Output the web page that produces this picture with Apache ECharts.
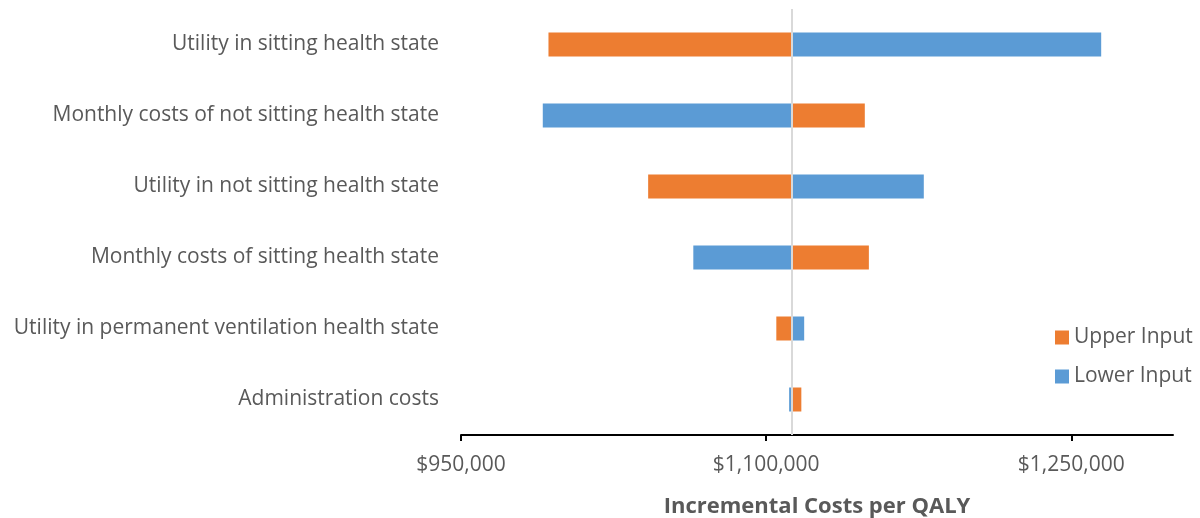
<!DOCTYPE html>
<html>
<head>
<meta charset="utf-8">
<script src="https://cdn.jsdelivr.net/npm/echarts@6/dist/echarts.min.js"></script>
<style>
  html, body { margin: 0; padding: 0; background: #fff; }
  #chart { width: 1200px; height: 518px; }
</style>
</head>
<body>
<div id="chart"></div>
<script>
// tornado data
const categories = [
  "Utility in sitting health state",
  "Monthly costs of not sitting health state",
  "Utility in not sitting health state",
  "Monthly costs of sitting health state",
  "Utility in permanent ventilation health state",
  "Administration costs",
];
const baseCase = 1112600;
const upperInput = [993000, 1148500, 1042000, 1150500, 1105000, 1117300];
const lowerInput = [1264700, 990200, 1177500, 1064200, 1118700, 1111300];
const tickValues = [950000, 1100000, 1250000];

const font = "Open Sans";
const textColor = "#595959";

// each input is a stack: invisible offset up to the left edge, then the coloured part
const offsetOf = (arr) => arr.map((v) => Math.min(v, baseCase));
const spanOf = (arr) => arr.map((v) => Math.abs(v - baseCase));

const fmtMoney = (v) => "$" + v.toLocaleString("en-US");

const chart = echarts.init(document.getElementById("chart"));

chart.setOption({
  animation: false,
  textStyle: { fontFamily: font },
  grid: {
    left: 461,
    right: 27,
    top: 9,
    bottom: 83,
    containLabel: false,
    outerBoundsMode: "none",
  },
  legend: {
    data: ["Upper Input", "Lower Input"],
    orient: "vertical",
    left: 1050,
    top: 322,
    itemWidth: 14,
    itemHeight: 14,
    itemGap: 18,
    icon: "rect",
    textStyle: { fontSize: 21, color: textColor, fontFamily: font },
  },
  xAxis: {
    type: "value",
    min: 950000,
    max: 1300000,
    interval: 150000,
    name: "Incremental Costs per QALY",
    nameLocation: "middle",
    nameGap: 61,
    nameTextStyle: { fontSize: 22, fontWeight: "bold", color: textColor, fontFamily: font },
    axisLine: { show: true, lineStyle: { color: "#000", width: 2 } },
    axisTick: { show: true, length: 6, customValues: tickValues, lineStyle: { color: "#000", width: 2 } },
    axisLabel: {
      customValues: tickValues,
      formatter: fmtMoney,
      fontSize: 21,
      color: textColor,
      margin: 20,
    },
    splitLine: { show: false },
  },
  yAxis: {
    type: "category",
    data: categories,
    inverse: true,
    axisLine: { show: false },
    axisTick: { show: false },
    axisLabel: { fontSize: 21, color: textColor, margin: 22, padding: [3, 0, 0, 0] },
  },
  series: [
    {
      name: "upperOffset",
      type: "bar",
      stack: "upper",
      data: offsetOf(upperInput),
      itemStyle: { color: "transparent" },
      barWidth: 24,
      silent: true,
    },
    {
      name: "Upper Input",
      type: "bar",
      stack: "upper",
      data: spanOf(upperInput),
      itemStyle: { color: "#ED7D31" },
      barWidth: 24,
    },
    {
      name: "lowerOffset",
      type: "bar",
      stack: "lower",
      data: offsetOf(lowerInput),
      itemStyle: { color: "transparent" },
      barWidth: 24,
      barGap: "-100%",
      silent: true,
    },
    {
      name: "Lower Input",
      type: "bar",
      stack: "lower",
      data: spanOf(lowerInput),
      itemStyle: { color: "#5B9BD5" },
      barWidth: 24,
      barGap: "-100%",
      markLine: {
        silent: true,
        symbol: "none",
        label: { show: false },
        lineStyle: { color: "#D9D9D9", width: 2, type: "solid" },
        data: [{ xAxis: baseCase }],
      },
    },
  ],
});
</script>
</body>
</html>
